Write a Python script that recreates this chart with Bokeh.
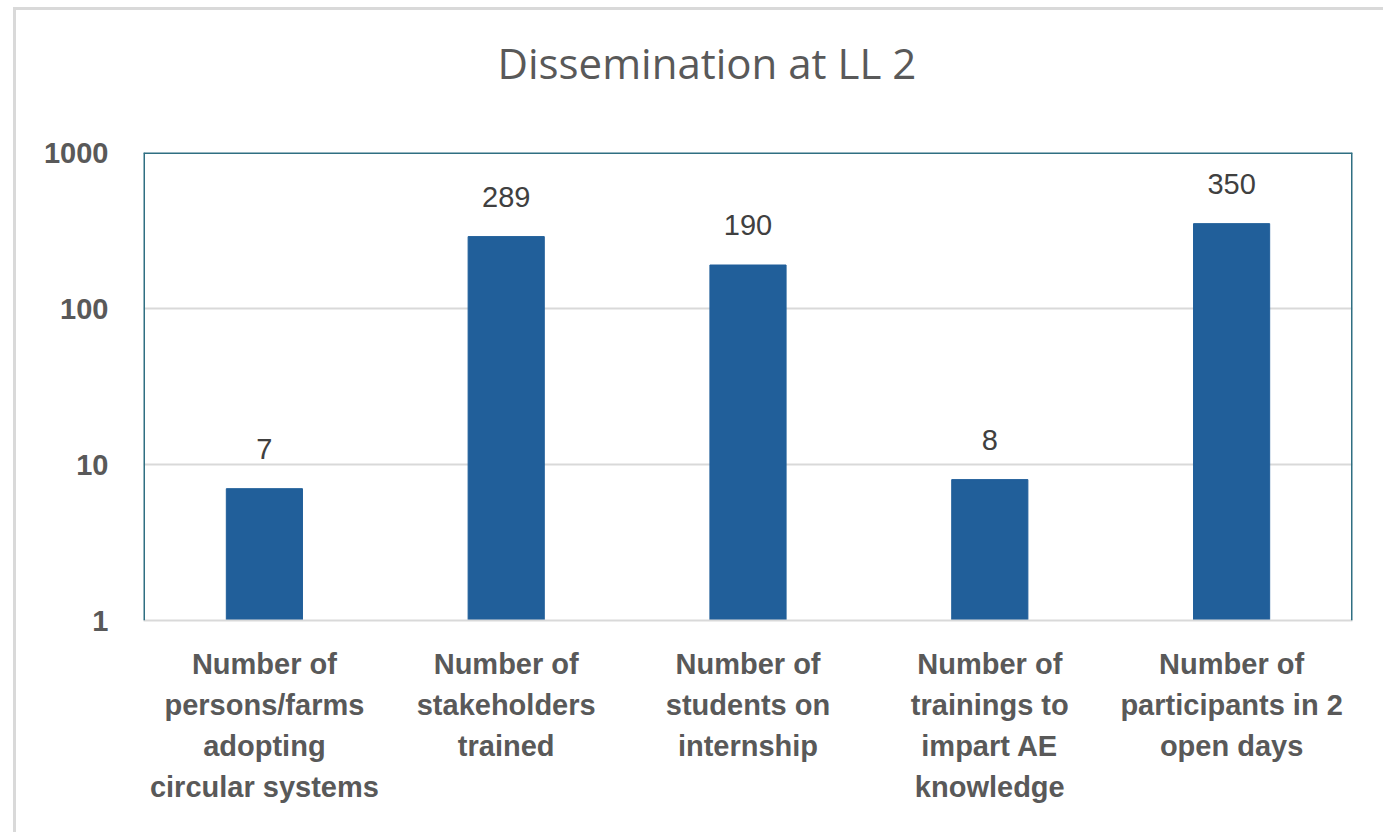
from bokeh.plotting import figure
from bokeh.models import (FactorRange, Range1d, FixedTicker, Span, ColumnDataSource,
                          PrintfTickFormatter, Title)
from bokeh.core.properties import value
from bokeh.embed import file_html
from bokeh.resources import INLINE

title_text = "Dissemination at LL 2"
categories = [
    "Number of\npersons/farms\nadopting\ncircular systems",
    "Number of\nstakeholders\ntrained",
    "Number of\nstudents on\ninternship",
    "Number of\ntrainings to\nimpart AE\nknowledge",
    "Number of\nparticipants in 2\nopen days",
]
values = [7, 289, 190, 8, 350]
y_ticks = [1, 10, 100, 1000]

BAR = "#215f9a"
GRID = "#d9d9d9"
TEAL = "#2f6f82"
TXT = "#595959"

src = ColumnDataSource(dict(cat=categories, val=values, lab=[str(v) for v in values]))

p = figure(width=1383, height=832, output_backend="svg", toolbar_location=None,
           title_location=None,
           x_range=FactorRange(factors=categories), y_range=Range1d(1, 1000),
           y_axis_type="log", min_border_left=143, min_border_right=31,
           min_border_top=152, min_border_bottom=212)

p.styles = {
    "background-image": "linear-gradient(#d9d9d9,#d9d9d9), linear-gradient(#d9d9d9,#d9d9d9)",
    "background-size": "3px 100%, 100% 3px",
    "background-position": "13px 8px, 13px 7px",
    "background-repeat": "no-repeat",
}
p.border_fill_color = None
p.background_fill_color = "white"

p.vbar(x="cat", top="val", bottom=1, width=0.315, source=src, color=BAR)
p.text(x="cat", y="val", text="lab", source=src, y_offset=-40,
       text_align="center", text_baseline="middle",
       text_font=value("Liberation Sans"), text_font_size="29px", text_color="#404040")

# spacer between title and frame
p.add_layout(Title(text=" ", text_font_size="10px", standoff=49), "above")
p.add_layout(Title(text=title_text, align="left", offset=354, standoff=0,
                   text_font="Open Sans", text_font_style="normal",
                   text_font_size="42px", text_color=TXT), "above")

p.outline_line_color = None
p.xgrid.grid_line_color = None
p.ygrid.grid_line_color = GRID
p.ygrid.grid_line_width = 2
p.ygrid.ticker = FixedTicker(ticks=y_ticks)

ya = p.yaxis[0]
ya.ticker = FixedTicker(ticks=y_ticks, minor_ticks=[])
ya.formatter = PrintfTickFormatter(format="%d")
ya.axis_line_color = None
ya.major_tick_line_color = None
ya.minor_tick_line_color = None
ya.major_label_standoff = 29
ya.major_label_text_font = "Liberation Sans"
ya.major_label_text_font_style = "bold"
ya.major_label_text_font_size = "29px"
ya.major_label_text_color = TXT

xa = p.xaxis[0]
xa.axis_line_color = GRID
xa.axis_line_width = 2
xa.major_tick_line_color = None
xa.minor_tick_line_color = None
xa.major_label_standoff = 21
xa.major_label_text_font = "Liberation Sans"
xa.major_label_text_font_style = "bold"
xa.major_label_text_font_size = "29px"
xa.major_label_text_color = TXT
xa.major_label_text_line_height = 1.29

# frame edges
p.add_layout(Span(location=1000, dimension="width", line_color=TEAL, line_width=3))
p.add_layout(Span(location=0, dimension="height", line_color=TEAL, line_width=3))
p.add_layout(Span(location=5, dimension="height", line_color=TEAL, line_width=3))

open("out.html", "w").write(file_html(p, INLINE))
